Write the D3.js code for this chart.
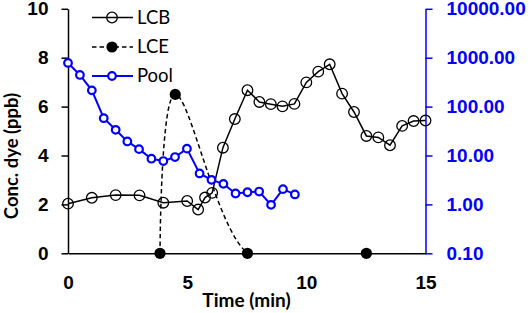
<!DOCTYPE html>
<html>
<head>
<meta charset="UTF-8">
<script src="https://d3js.org/d3.v7.min.js"></script>
<style>
  body { margin: 0; background: white; }
  svg { display: block; font-family: Lato, "Open Sans", sans-serif; }
</style>
</head>
<body>
<svg id="chart" width="532" height="313"></svg>
<script>
// data
const lcbTime = [0, 1, 2, 3, 4, 5, 5.46, 5.75, 6.05, 6.5, 7, 7.53, 8.03, 8.51, 9, 9.5, 10, 10.5, 10.98, 11.5, 12, 12.52, 13.02, 13.51, 14.02, 14.5, 15];
const lcbConc = [2.03, 2.27, 2.38, 2.37, 2.07, 2.14, 1.79, 2.28, 2.47, 4.32, 5.49, 6.67, 6.19, 6.1, 6.01, 6.11, 6.99, 7.43, 7.73, 6.53, 5.78, 4.8, 4.74, 4.42, 5.21, 5.41, 5.43];

const lceTime = [3.86, 4.5, 7.53, 12.52];
const lceConc = [0, 6.5, 0, 0];

const poolTime = [0, 0.5, 1, 1.5, 2, 2.49, 2.98, 3.5, 4, 4.49, 4.99, 5.52, 6.02, 6.52, 7.03, 7.53, 8.02, 8.52, 9.02, 9.52];
const poolConc = [782, 444, 215, 58, 33.5, 19.4, 13.5, 8.6, 7.7, 9.3, 13.8, 4.3, 3.18, 2.63, 1.67, 1.77, 1.83, 0.98, 2.05, 1.6];

const xTicks = [0, 5, 10, 15];
const yTicks = [0, 2, 4, 6, 8, 10];
const y2Ticks = [0.1, 1, 10, 100, 1000, 10000];

const svg = d3.select("#chart");
const m = { left: 68, right: 425.5, top: 8.8, bottom: 253.3 };
const blue = "#0000ff";
const fs = 19;

const x = d3.scaleLinear().domain([0, 15]).range([m.left, m.right]);
const y = d3.scaleLinear().domain([0, 10]).range([m.bottom, m.top]);
const y2 = d3.scaleLog().domain([0.1, 10000]).range([m.bottom, m.top]);

svg.append("clipPath").attr("id", "plot")
  .append("rect")
  .attr("x", m.left).attr("y", m.top - 8)
  .attr("width", m.right - m.left).attr("height", m.bottom - m.top + 8);

// left axis
const yAx = svg.append("g")
  .attr("transform", `translate(${m.left},0)`)
  .call(d3.axisLeft(y).tickValues(yTicks).tickSize(6.5).tickPadding(13).tickSizeOuter(0));
yAx.select(".domain").attr("stroke", "#000").attr("stroke-width", 1.5);
yAx.selectAll(".tick line").attr("stroke", "#000").attr("stroke-width", 1.5);
yAx.selectAll("text").attr("font-size", fs).attr("font-weight", "bold").attr("fill", "#000");

// right axis
const y2Ax = svg.append("g")
  .attr("transform", `translate(${m.right},0)`)
  .call(d3.axisRight(y2).tickValues(y2Ticks).tickFormat(d3.format(".2f")).tickSize(7).tickPadding(14).tickSizeOuter(0));
y2Ax.select(".domain").attr("stroke", blue).attr("stroke-width", 1.5);
y2Ax.selectAll(".tick line").attr("stroke", blue).attr("stroke-width", 1.5);
y2Ax.selectAll("text").attr("font-size", fs).attr("font-weight", "bold").attr("fill", blue);

// bottom axis
const xAx = svg.append("g")
  .attr("transform", `translate(0,${m.bottom})`)
  .call(d3.axisBottom(x).tickValues(xTicks).tickSize(0).tickPadding(22).tickSizeOuter(0));
xAx.select(".domain").attr("stroke", "#000").attr("stroke-width", 1.5);
xAx.selectAll("text").attr("font-size", fs).attr("font-weight", "bold").attr("fill", "#000");

svg.append("text")
  .attr("x", 246.5).attr("y", 306.5).attr("text-anchor", "middle")
  .attr("font-size", fs).attr("font-weight", "bold")
  .text("Time (min)");

svg.append("text")
  .attr("transform", "translate(17.5,156) rotate(-90)")
  .attr("text-anchor", "middle")
  .attr("font-size", 18.5).attr("font-weight", "bold")
  .text("Conc. dye (ppb)");

// LCB
const lcb = lcbTime.map((t, i) => [t, lcbConc[i]]);
svg.append("path").datum(lcb)
  .attr("fill", "none").attr("stroke", "#000").attr("stroke-width", 1.5)
  .attr("d", d3.line().x(d => x(d[0])).y(d => y(d[1])));
svg.append("g").selectAll("circle").data(lcb).join("circle")
  .attr("cx", d => x(d[0])).attr("cy", d => y(d[1])).attr("r", 5.3)
  .attr("fill", "none").attr("stroke", "#000").attr("stroke-width", 1.3);

// LCE (smoothed dashed)
const lce = lceTime.map((t, i) => [t, lceConc[i]]);
svg.append("path").datum(lce)
  .attr("clip-path", "url(#plot)")
  .attr("fill", "none").attr("stroke", "#000").attr("stroke-width", 1.5)
  .attr("stroke-dasharray", "4.5,3")
  .attr("d", d3.line().curve(d3.curveCardinal.tension(0)).x(d => x(d[0])).y(d => y(d[1])));
svg.append("g").selectAll("circle").data(lce).join("circle")
  .attr("cx", d => x(d[0])).attr("cy", d => y(d[1])).attr("r", 5.6)
  .attr("fill", "#000");

// Pool (secondary axis)
const pool = poolTime.map((t, i) => [t, poolConc[i]]);
svg.append("path").datum(pool)
  .attr("fill", "none").attr("stroke", blue).attr("stroke-width", 2)
  .attr("d", d3.line().x(d => x(d[0])).y(d => y2(d[1])));
svg.append("g").selectAll("circle").data(pool).join("circle")
  .attr("cx", d => x(d[0])).attr("cy", d => y2(d[1])).attr("r", 3.8)
  .attr("fill", "#fff").attr("stroke", blue).attr("stroke-width", 2.2);

// legend
const legend = [
  { name: "LCB", y: 17.5, stroke: "#000", dash: null, fill: "none", r: 5.3, sw: 1.3, lw: 1.5 },
  { name: "LCE", y: 47, stroke: "#000", dash: "4.5,3", fill: "#000", r: 5.6, sw: 0, lw: 1.5 },
  { name: "Pool", y: 76, stroke: blue, dash: null, fill: "#fff", r: 3.8, sw: 2.2, lw: 2 }
];
legend.forEach(l => {
  const g = svg.append("g");
  g.append("line").attr("x1", 92).attr("x2", 133).attr("y1", l.y).attr("y2", l.y)
    .attr("stroke", l.stroke).attr("stroke-width", l.lw).attr("stroke-dasharray", l.dash);
  g.append("circle").attr("cx", 112).attr("cy", l.y).attr("r", l.r)
    .attr("fill", l.fill).attr("stroke", l.stroke).attr("stroke-width", l.sw);
  g.append("text").attr("x", 137).attr("y", l.y).attr("dy", "0.35em")
    .attr("font-size", 18.5).attr("fill", "#000").text(l.name);
});
</script>
</body>
</html>
